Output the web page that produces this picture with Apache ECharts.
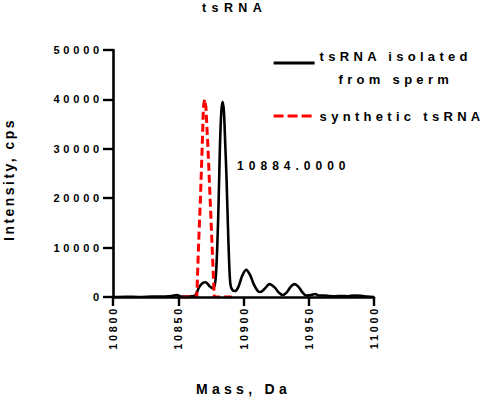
<!DOCTYPE html>
<html>
<head>
<meta charset="utf-8">
<script src="https://cdn.jsdelivr.net/npm/echarts@6/dist/echarts.min.js"></script>
<style>
  html, body { margin: 0; padding: 0; background: #fff; }
  #chart { width: 484px; height: 398px; }
  /* Prism-style wide letter spacing, keyed on font size */
  text[style*=":12.5px"], text[style*=" 12.5px"] { letter-spacing: 5.4px; }
  text[style*=":12px"], text[style*=" 12px"] { letter-spacing: 5px; }
  text[style*=":13px"], text[style*=" 13px"] { letter-spacing: 4.3px; }
  text[style*=":11px"], text[style*=" 11px"] { letter-spacing: 3.8px; }
  text[style*=":10.8px"], text[style*=" 10.8px"] { letter-spacing: 2.75px; }
  text[style*=":14px"], text[style*=" 14px"] { letter-spacing: 4.3px; }
  text[style*=":13.9px"], text[style*=" 13.9px"] { letter-spacing: 2.5px; }
</style>
</head>
<body>
<div id="chart"></div>
<script>
// mass (Da) / intensity (cps)
const spermMass = [10800, 10810, 10820, 10830, 10840, 10845, 10849, 10852, 10856, 10860, 10863,
    10866, 10869, 10871, 10874, 10876.5, 10878, 10879, 10880, 10881, 10882, 10883, 10884,
    10885, 10886, 10887, 10888, 10889, 10890, 10891.5, 10893.5, 10896, 10899, 10902, 10905,
    10908, 10911, 10913, 10916, 10920, 10924, 10927, 10930, 10933, 10936, 10939, 10942,
    10945, 10948, 10952, 10955, 10958, 10962, 10966, 10970, 10975, 10980, 10985, 10990,
    10995, 11000]
const spermIntensity = [0, 50, 0, 80, 100, 200, 400, 100, 100, 150, 300,
    2000, 2900, 3000, 2200, 1800, 2500, 5000, 11000, 20000, 31000, 37500, 39500,
    37500, 31000, 24000, 15000, 7000, 2500, 1400, 1200, 2000, 4300, 5500, 4500,
    2500, 1200, 1000, 1600, 2600, 1900, 900, 400, 900, 2000, 2600, 2100,
    1000, 300, 400, 600, 300, 300, 200, 150, 200, 150, 300, 250,
    100, 0]

const synthMass = [10853, 10864.2, 10865.5, 10867, 10868.3, 10869.3, 10870.2, 10871.2,
    10872.8, 10874.4, 10876, 10877.6, 10891]
const synthIntensity = [0, 0, 10000, 20000, 30000, 38500, 40000, 38500,
    30000, 20000, 10000, 0, 0]

const peakMass = 10884
const peakIntensity = 39500
const peakLabel = '10884.0000'

const xTicks = { min: 10800, max: 11000, interval: 50 }
const yTicks = { min: 0, max: 50000, interval: 10000 }

const font = '"Liberation Sans", Arial, sans-serif'

function zip(xs, ys) {
    return xs.map((x, i) => [x, ys[i]])
}

let chart = echarts.init(document.getElementById('chart'), null, { renderer: 'svg' })

const legendText = { color: '#000', fontSize: 13, fontWeight: 'bold', fontFamily: font, lineHeight: 23 }

let option = {
    backgroundColor: '#fff',
    animation: false,
    title: {
        text: 'tsRNA',
        left: 202,
        top: 1,
        padding: 0,
        textStyle: { color: '#000', fontSize: 12.5, fontWeight: 'bold', fontFamily: font }
    },
    legend: {
        orient: 'vertical',
        left: 272,
        top: 33.5,
        padding: 0,
        itemWidth: 41,
        itemHeight: 14,
        itemGap: 13.5,
        textStyle: Object.assign({}, legendText, {
            rich: {
                gap: Object.assign({}, legendText, { lineHeight: 10 }),
                a: legendText,
                b: Object.assign({}, legendText, { padding: [0, 0, 0, 19] })
            }
        }),
        formatter: function (name) {
            if (name === 'tsRNA isolated from sperm') {
                // spacer line on top so the icon sits near the first line
                return '{gap| }\n{a|tsRNA isolated}\n{b|from sperm}'
            }
            return '{a|' + name + '}'
        },
        data: [
            { name: 'tsRNA isolated from sperm', itemStyle: { opacity: 0 }, lineStyle: { width: 3.2 } },
            { name: 'synthetic tsRNA', itemStyle: { opacity: 0 }, lineStyle: { width: 3.2, type: [10, 4] } }
        ]
    },
    grid: { left: 113, right: 110, top: 50, bottom: 101, containLabel: false, outerBoundsMode: 'none' },
    xAxis: {
        type: 'value',
        min: xTicks.min,
        max: xTicks.max,
        interval: xTicks.interval,
        z: 5,
        name: 'Mass, Da',
        nameLocation: 'middle',
        nameGap: 85,
        nameTextStyle: { color: '#000', fontSize: 14, fontWeight: 'bold', fontFamily: font },
        axisLine: { lineStyle: { color: '#000', width: 2.6 } },
        axisTick: { length: 9, lineStyle: { color: '#000', width: 2.4 } },
        axisLabel: {
            rotate: 90,
            margin: 9,
            color: '#000',
            fontSize: 10.8,
            fontWeight: 'bold',
            fontFamily: font,
            formatter: v => String(v)
        },
        splitLine: { show: false }
    },
    yAxis: {
        type: 'value',
        min: yTicks.min,
        max: yTicks.max,
        interval: yTicks.interval,
        z: 5,
        name: 'Intensity, cps',
        nameLocation: 'middle',
        nameGap: 97,
        nameTextStyle: { color: '#000', fontSize: 13.9, fontWeight: 'bold', fontFamily: font, padding: [0, 12, 0, 0] },
        axisLine: { show: true, lineStyle: { color: '#000', width: 2.6 } },
        axisTick: { show: true, length: 10, lineStyle: { color: '#000', width: 2.4 } },
        axisLabel: {
            margin: 10,
            color: '#000',
            fontSize: 11,
            fontWeight: 'bold',
            fontFamily: font,
            formatter: v => String(v)
        },
        splitLine: { show: false }
    },
    series: [
        {
            name: 'tsRNA isolated from sperm',
            type: 'line',
            smooth: 0.3,
            symbol: 'none',
            z: 2,
            lineStyle: { color: '#000', width: 2.6 },
            itemStyle: { color: '#000' },
            data: zip(spermMass, spermIntensity),
            markPoint: {
                symbol: 'circle',
                symbolSize: 1,
                itemStyle: { color: 'rgba(0,0,0,0)' },
                label: {
                    show: true,
                    position: 'right',
                    distance: 0,
                    offset: [14, 64],
                    color: '#000',
                    fontSize: 12,
                    fontWeight: 'bold',
                    fontFamily: font,
                    formatter: peakLabel
                },
                data: [{ coord: [peakMass, peakIntensity] }]
            }
        },
        {
            name: 'synthetic tsRNA',
            type: 'line',
            symbol: 'none',
            z: 3,
            lineStyle: { color: '#ff0000', width: 3, type: [8, 4] },
            itemStyle: { color: '#ff0000' },
            data: zip(synthMass, synthIntensity)
        }
    ]
}

chart.setOption(option)
</script>
</body>
</html>
